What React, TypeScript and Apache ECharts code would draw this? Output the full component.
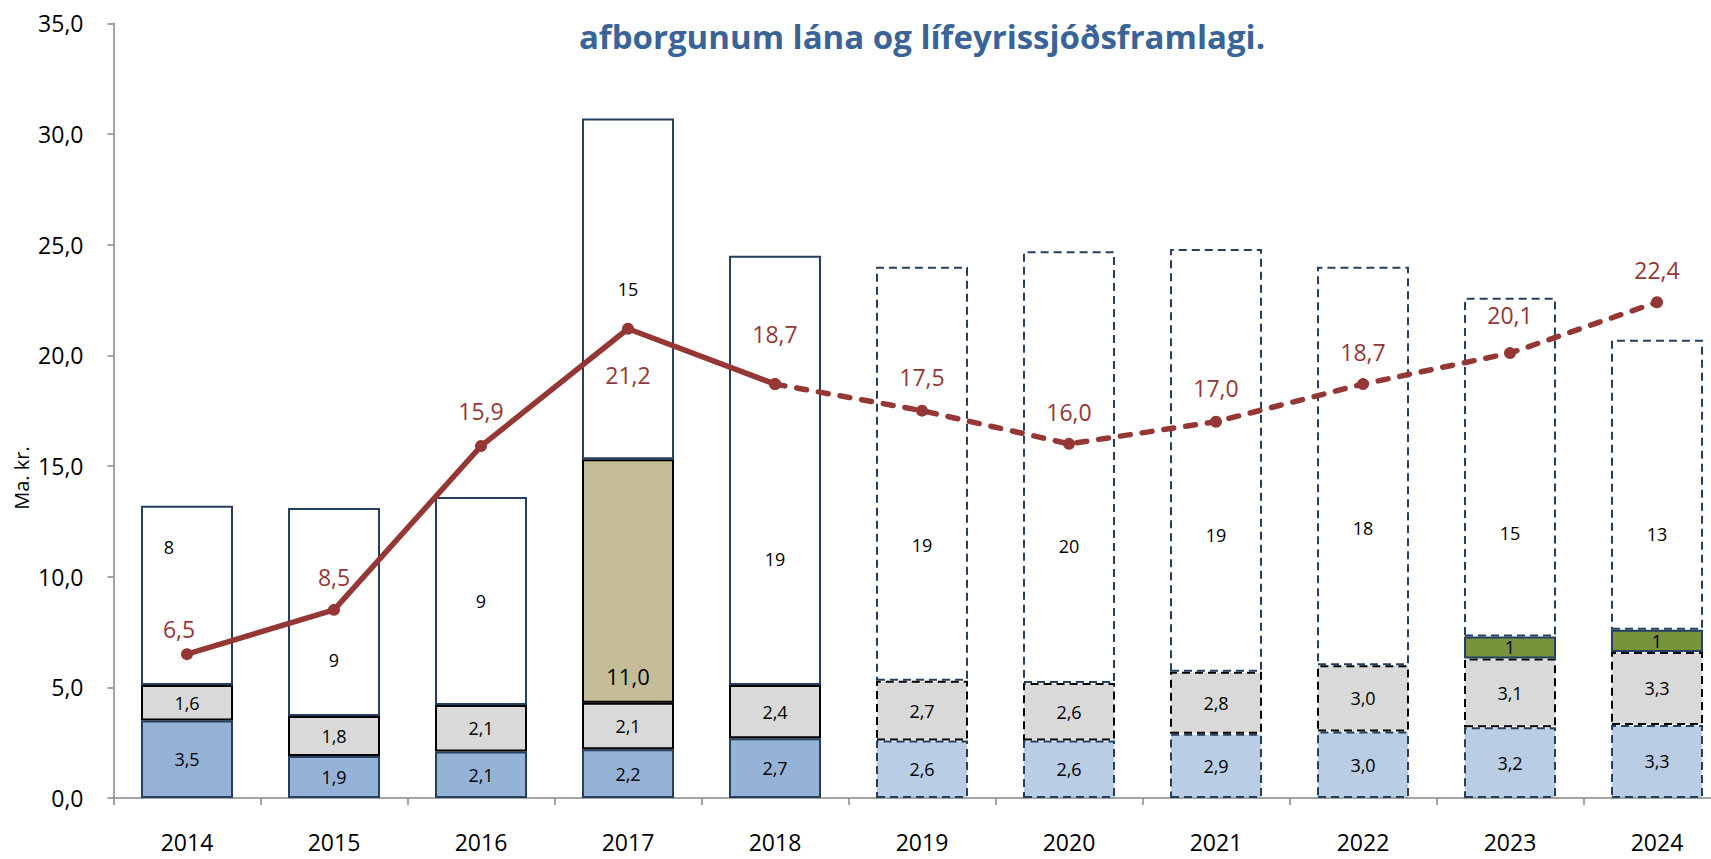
import React, { useEffect, useRef } from "react";
import * as echarts from "echarts";

const years = ["2014", "2015", "2016", "2017", "2018", "2019", "2020", "2021", "2022", "2023", "2024"];
const blueValues = [3.5, 1.9, 2.1, 2.2, 2.7, 2.6, 2.6, 2.9, 3.0, 3.2, 3.3];
const grayValues = [1.6, 1.8, 2.1, 2.1, 2.4, 2.7, 2.6, 2.8, 3.0, 3.1, 3.3];
const tanValues: (number | null)[] = [null, null, null, 11.0, null, null, null, null, null, null, null];
const greenValues: (number | null)[] = [null, null, null, null, null, null, null, null, null, 1.0, 1.0];
const whiteValues = [8.1, 9.4, 9.4, 15.4, 19.4, 18.7, 19.5, 19.1, 18.0, 15.3, 13.1];
const lineValues = [6.5, 8.5, 15.9, 21.2, 18.7, 17.5, 16.0, 17.0, 18.7, 20.1, 22.4];
const firstProjected = 5; // 2019 onwards drawn dashed

const yTicks = { min: 0, max: 35, interval: 5 };
const titleText = "afborgunum lána og lífeyrissjóðsframlagi.";
const yName = "Ma. kr.";

// style-only arrays (label placement)
const whiteLabelOffsets = [[-18, -48], [0, 48], [0, 0], [0, 0], [0, 89], [0, 71], [0, 79], [0, 75], [0, 62], [0, 66], [0, 49]];
const lineLabelPlacement: { pos: string; d: number; dx: number }[] = [
  { pos: "top", d: 8, dx: -8 },
  { pos: "top", d: 15, dx: 0 },
  { pos: "top", d: 18, dx: 0 },
  { pos: "bottom", d: 29, dx: 0 },
  { pos: "top", d: 33, dx: 0 },
  { pos: "top", d: 16, dx: 0 },
  { pos: "top", d: 14, dx: 0 },
  { pos: "top", d: 16, dx: 0 },
  { pos: "top", d: 15, dx: 0 },
  { pos: "top", d: 21, dx: 0 },
  { pos: "top", d: 15, dx: 0 },
];

const FONT = "'Open Sans', 'Noto Sans', sans-serif";
const NAVY = "#243F60";
const RED = "#953735";
const dash = [8, 5];

const fmt1 = (v: number) => v.toFixed(1).replace(".", ",");

export default function App() {
  const ref = useRef<HTMLDivElement>(null);

  useEffect(() => {
    if (!ref.current) return;
    const chart = echarts.init(ref.current, null, { renderer: "svg" });

    const proj = (i: number) => i >= firstProjected;

    const blueData = blueValues.map((v, i) => ({
      value: v,
      itemStyle: {
        color: proj(i) ? "#B9CDE5" : "#95B3D7",
        borderColor: NAVY,
        borderWidth: 2,
        borderType: proj(i) ? dash : "solid",
      },
    }));
    const grayData = grayValues.map((v, i) => ({
      value: v,
      itemStyle: {
        color: "#D9D9D9",
        borderColor: "#000000",
        borderWidth: 2,
        borderType: proj(i) ? dash : "solid",
      },
    }));
    const whiteData = whiteValues.map((v, i) => ({
      value: v,
      itemStyle: {
        color: "#FFFFFF",
        borderColor: NAVY,
        borderWidth: 2,
        borderType: proj(i) ? dash : "solid",
      },
      label: { offset: whiteLabelOffsets[i] },
    }));

    const solidLine = lineValues.map((v, i) => {
      if (i > firstProjected - 1) return "-";
      const p = lineLabelPlacement[i];
      return { value: v, label: { position: p.pos, distance: p.d, offset: [p.dx, 0] } };
    });
    const dashedLine = lineValues.map((v, i) => {
      if (i < firstProjected - 1) return "-";
      const p = lineLabelPlacement[i];
      return {
        value: v,
        label: i < firstProjected ? { show: false } : { position: p.pos, distance: p.d, offset: [p.dx, 0] },
      };
    });

    const barLabel = {
      show: true,
      position: "inside",
      color: "#000",
      fontFamily: FONT,
      fontSize: 18,
    };

    const option: any = {
      animation: false,
      backgroundColor: "#FFFFFF",
      grid: {
        left: 113.5,
        right: -19.5,
        top: 23.3,
        bottom: 61,
        outerBoundsMode: "none",
        containLabel: false,
      },
      xAxis: {
        type: "category",
        data: years,
        axisLine: { lineStyle: { color: "#868686", width: 1.5 } },
        axisTick: { show: true, length: 7, lineStyle: { color: "#868686", width: 1.5 } },
        axisLabel: { color: "#000", fontFamily: FONT, fontSize: 23, margin: 32 },
      },
      yAxis: {
        type: "value",
        min: yTicks.min,
        max: yTicks.max,
        interval: yTicks.interval,
        splitLine: { show: false },
        axisLine: { show: true, lineStyle: { color: "#868686", width: 1.5 } },
        axisTick: { show: true, length: 6, lineStyle: { color: "#868686", width: 1.5 } },
        axisLabel: {
          color: "#000",
          fontFamily: FONT,
          fontSize: 23,
          margin: 30,
          formatter: (v: number) => fmt1(v),
        },
      },
      graphic: [
        {
          type: "text",
          x: 922,
          y: 36,
          style: {
            text: titleText,
            fill: "#3A6497",
            fontFamily: FONT,
            fontSize: 33,
            fontWeight: "bold",
            textAlign: "center",
            textVerticalAlign: "middle",
          },
        },
        {
          type: "text",
          x: 21,
          y: 478,
          rotation: Math.PI / 2,
          style: {
            text: yName,
            fill: "#000",
            fontFamily: FONT,
            fontSize: 20,
            textAlign: "center",
            textVerticalAlign: "middle",
          },
        },
      ],
      series: [
        {
          name: "blue",
          type: "bar",
          stack: "s",
          barWidth: 92,
          data: blueData,
          label: { ...barLabel, formatter: (p: any) => fmt1(p.value) },
        },
        {
          name: "gray",
          type: "bar",
          stack: "s",
          barWidth: 92,
          data: grayData,
          label: { ...barLabel, formatter: (p: any) => fmt1(p.value) },
        },
        {
          name: "tan",
          type: "bar",
          stack: "s",
          barWidth: 92,
          data: tanValues,
          itemStyle: { color: "#C4BD97", borderColor: "#000", borderWidth: 2 },
          label: {
            ...barLabel,
            fontSize: 22,
            position: "insideBottom",
            distance: 16,
            formatter: (p: any) => fmt1(p.value),
          },
        },
        {
          name: "green",
          type: "bar",
          stack: "s",
          barWidth: 92,
          data: greenValues,
          itemStyle: { color: "#77933C", borderColor: NAVY, borderWidth: 2 },
          label: { ...barLabel, formatter: (p: any) => String(Math.round(p.value)) },
        },
        {
          name: "white",
          type: "bar",
          stack: "s",
          barWidth: 92,
          data: whiteData,
          label: { ...barLabel, formatter: (p: any) => String(Math.round(p.value)) },
        },
        {
          name: "line",
          type: "line",
          data: solidLine,
          symbol: "circle",
          symbolSize: 12,
          itemStyle: { color: RED },
          lineStyle: { color: RED, width: 5.5 },
          label: {
            show: true,
            color: RED,
            fontFamily: FONT,
            fontSize: 23,
            formatter: (p: any) => fmt1(p.value),
          },
          z: 5,
        },
        {
          name: "lineProj",
          type: "line",
          data: dashedLine,
          symbol: "circle",
          symbolSize: 12,
          itemStyle: { color: RED },
          lineStyle: { color: RED, width: 5.5, type: [10, 12], cap: "round" },
          label: {
            show: true,
            color: RED,
            fontFamily: FONT,
            fontSize: 23,
            formatter: (p: any) => fmt1(p.value),
          },
          z: 5,
        },
      ],
    };

    chart.setOption(option);
    return () => chart.dispose();
  }, []);

  return (
    <div
      ref={ref}
      style={{ position: "fixed", left: 0, top: 0, width: 1711, height: 859, background: "#fff" }}
    />
  );
}
